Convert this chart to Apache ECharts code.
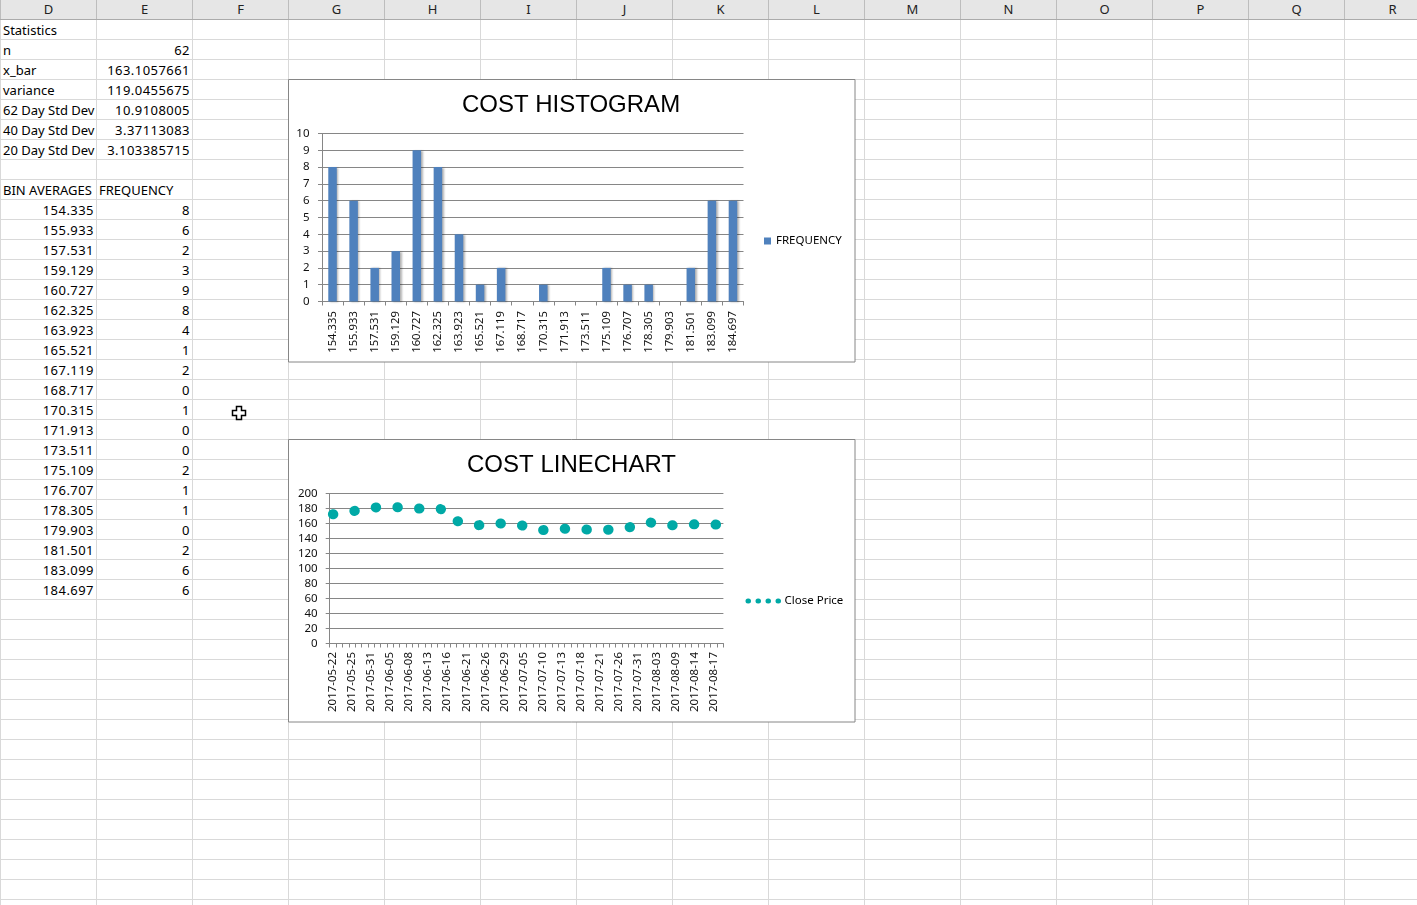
<!DOCTYPE html>
<html>
<head>
<meta charset="utf-8">
<script src="https://cdn.jsdelivr.net/npm/echarts@6/dist/echarts.min.js"></script>
<style>
html,body{margin:0;padding:0;width:1417px;height:905px;overflow:hidden;background:#fff;font-family:'Noto Sans',sans-serif;}
#sheet{position:absolute;left:0;top:0;width:1417px;height:905px;
  background-image:linear-gradient(to right,#D9D9D9 1px,transparent 1px),linear-gradient(to bottom,#D9D9D9 1px,transparent 1px);
  background-size:96px 20px;background-position:0 19px;}
#hdr{position:absolute;left:0;top:0;width:1417px;height:19px;background:#E6E6E6;border-bottom:1px solid #ABABAB;}
.hc{position:absolute;top:0;height:19px;line-height:19px;width:95px;border-left:1px solid #BDBDBD;text-align:center;font-size:13px;color:#222;}
.cell{position:absolute;height:19px;line-height:19px;font-size:13px;color:#000;white-space:nowrap;}
.num{letter-spacing:0.45px;}
#chart{position:absolute;left:0;top:0;width:1417px;height:905px;}
</style>
</head>
<body>
<div id="sheet"></div>
<div id="hdr"></div>
<div id="cells"></div>
<div id="chart"></div>
<script>
// ---- data ----
const columnLetters = ['D','E','F','G','H','I','J','K','L','M','N','O','P','Q','R'];
const statTitle = 'Statistics';
const statLabels = ['n','x_bar','variance','62 Day Std Dev','40 Day Std Dev','20 Day Std Dev'];
const statValues = ['62','163.1057661','119.0455675','10.9108005','3.37113083','3.103385715'];
const binHeader = 'BIN AVERAGES';
const freqHeader = 'FREQUENCY';
const binAverages = ['154.335','155.933','157.531','159.129','160.727','162.325','163.923','165.521','167.119','168.717',
                     '170.315','171.913','173.511','175.109','176.707','178.305','179.903','181.501','183.099','184.697'];
const frequency = [8,6,2,3,9,8,4,1,2,0,1,0,0,2,1,1,0,2,6,6];
const dates = [
 '2017-05-22','2017-05-23','2017-05-24','2017-05-25','2017-05-26','2017-05-30','2017-05-31',
 '2017-06-01','2017-06-02','2017-06-05','2017-06-06','2017-06-07','2017-06-08','2017-06-09','2017-06-12','2017-06-13',
 '2017-06-14','2017-06-15','2017-06-16','2017-06-19','2017-06-20','2017-06-21','2017-06-22','2017-06-23','2017-06-26',
 '2017-06-27','2017-06-28','2017-06-29','2017-06-30',
 '2017-07-03','2017-07-05','2017-07-06','2017-07-07','2017-07-10','2017-07-11','2017-07-12','2017-07-13','2017-07-14',
 '2017-07-17','2017-07-18','2017-07-19','2017-07-20','2017-07-21','2017-07-24','2017-07-25','2017-07-26','2017-07-27',
 '2017-07-28','2017-07-31',
 '2017-08-01','2017-08-02','2017-08-03','2017-08-07','2017-08-08','2017-08-09','2017-08-10','2017-08-11','2017-08-14',
 '2017-08-15','2017-08-16','2017-08-17','2017-08-18'
];
const closePrice = [
 172.3,173.6,174.9,176.2,177.6,179.6,181.2,
 181.5,181.8,181.6,181.8,181.3,180.7,180.2,179.8,180.3,
 179.6,179.4,168.6,164.4,162.3,160.1,158.4,157.8,158.9,
 160.0,160.2,159.7,159.4,
 159.1,156.9,154.4,152.6,151.1,152.1,152.9,153.3,152.8,
 152.3,152.0,151.9,151.8,151.5,151.6,152.1,152.8,153.4,
 155.6,158.1,
 160.3,161.3,159.9,158.4,157.3,157.9,158.3,158.7,158.9,
 158.6,158.7,158.7,158.5
];
const freqAxisRange = [0, 10];
const freqAxisStep = 1;
const priceAxisRange = [0, 200];
const priceAxisStep = 20;

// ---- spreadsheet ----
const hdr = document.getElementById('hdr');
columnLetters.forEach((c, i) => {
  const d = document.createElement('div');
  d.className = 'hc';
  d.style.left = (i * 96) + 'px';
  d.textContent = c;
  hdr.appendChild(d);
});
const cells = document.getElementById('cells');
function addCell(text, col, row, align) {
  const d = document.createElement('div');
  d.className = 'cell';
  d.style.top = (20 + 20 * (row - 1) + 0.5) + 'px';
  if (align === 'right') {
    d.className = 'cell num';
    d.style.left = (col * 96) + 'px';
    d.style.width = '94px';
    d.style.textAlign = 'right';
  } else {
    d.style.left = (col * 96 + 3) + 'px';
  }
  d.textContent = text;
  cells.appendChild(d);
}
addCell(statTitle, 0, 1, 'left');
statLabels.forEach((t, i) => { addCell(t, 0, 2 + i, 'left'); addCell(statValues[i], 1, 2 + i, 'right'); });
addCell(binHeader, 0, 9, 'left');
addCell(freqHeader, 1, 9, 'left');
binAverages.forEach((b, i) => { addCell(b, 0, 10 + i, 'right'); addCell(String(frequency[i]), 1, 10 + i, 'right'); });

// ---- charts ----
const chart = echarts.init(document.getElementById('chart'), null, {renderer: 'canvas'});
const axisGray = '#868686';
const labelFont = 'Noto Sans';
const titleStyle = {fontFamily: 'Liberation Sans', fontSize: 24, fontWeight: 'normal', color: '#000'};
const option = {
  animation: false,
  backgroundColor: 'transparent',
  textStyle: {fontFamily: labelFont},
  title: [
    {text: 'COST HISTOGRAM', left: 571, top: 93, textAlign: 'center', padding: 0, textStyle: titleStyle},
    {text: 'COST LINECHART', left: 571.5, top: 453, textAlign: 'center', padding: 0, textStyle: titleStyle}
  ],
  legend: [
    {data: ['FREQUENCY'], left: 764, top: 234, padding: 0, icon: 'rect', itemWidth: 7, itemHeight: 7,
     textStyle: {fontSize: 11.5, color: '#000', fontFamily: labelFont, lineHeight: 14}},
    {data: ['Close Price'], left: 745.5, top: 594, padding: 0, itemWidth: 31.5, itemHeight: 10,
     itemStyle: {opacity: 0},
     lineStyle: {width: 5, type: [0.5, 9.5], cap: 'round'},
     textStyle: {fontSize: 11.5, color: '#000', fontFamily: labelFont, lineHeight: 14}}
  ],
  grid: [
    {left: 322, top: 133.5, width: 421.5, height: 168},
    {left: 329.7, top: 493.5, width: 393.7, height: 150}
  ],
  xAxis: [
    {type: 'category', gridIndex: 0, data: binAverages, boundaryGap: true,
     axisLine: {show: true, lineStyle: {color: axisGray, width: 1}},
     axisTick: {show: true, interval: 0, length: 4, lineStyle: {color: axisGray}},
     axisLabel: {interval: 0, rotate: 90, margin: 9.5, fontSize: 11.3, color: '#111', fontFamily: labelFont},
     splitLine: {show: false}},
    {type: 'category', gridIndex: 1, data: dates, boundaryGap: true,
     axisLine: {show: true, lineStyle: {color: axisGray, width: 1}},
     axisTick: {show: true, interval: 0, length: 4, lineStyle: {color: axisGray}},
     axisLabel: {interval: 2, rotate: 90, margin: 8.5, fontSize: 11.5, color: '#111', fontFamily: labelFont},
     splitLine: {show: false}}
  ],
  yAxis: [
    {type: 'value', gridIndex: 0, min: freqAxisRange[0], max: freqAxisRange[1], interval: freqAxisStep,
     axisLine: {show: true, lineStyle: {color: axisGray}},
     axisTick: {show: true, length: 4, lineStyle: {color: axisGray}},
     axisLabel: {margin: 12.5, fontSize: 11.5, color: '#111', fontFamily: labelFont},
     splitLine: {show: true, lineStyle: {color: axisGray, width: 1}}},
    {type: 'value', gridIndex: 1, min: priceAxisRange[0], max: priceAxisRange[1], interval: priceAxisStep,
     axisLine: {show: true, lineStyle: {color: axisGray}},
     axisTick: {show: true, length: 4, lineStyle: {color: axisGray}},
     axisLabel: {margin: 12, fontSize: 11.5, color: '#111', fontFamily: labelFont},
     splitLine: {show: true, lineStyle: {color: axisGray, width: 1}}}
  ],
  series: [
    {name: 'FREQUENCY', type: 'bar', xAxisIndex: 0, yAxisIndex: 0, data: frequency, barWidth: 8.5,
     itemStyle: {color: '#4F81BD', shadowColor: 'rgba(0,0,0,0.3)', shadowBlur: 2, shadowOffsetX: 1.5, shadowOffsetY: 0.5}},
    {name: 'Close Price', type: 'line', xAxisIndex: 1, yAxisIndex: 1, data: closePrice,
     symbol: 'none', showSymbol: false, clip: false, smooth: false,
     itemStyle: {color: '#00A9A6'},
     lineStyle: {color: '#00A9A6', width: 10, type: [0.5, 21.2], cap: 'round'}}
  ],
  graphic: [
    {type: 'rect', z: -10, shape: {x: 288.5, y: 79.5, width: 566.5, height: 282.5},
     style: {fill: '#fff', stroke: axisGray, lineWidth: 1}},
    {type: 'rect', z: -10, shape: {x: 288.5, y: 439.5, width: 566.5, height: 282.5},
     style: {fill: '#fff', stroke: axisGray, lineWidth: 1}},
    {type: 'polygon', z: 100, shape: {points: [[236.5,406.5],[241.5,406.5],[241.5,410.5],[245.5,410.5],[245.5,415.5],
      [241.5,415.5],[241.5,419.5],[236.5,419.5],[236.5,415.5],[232.5,415.5],[232.5,410.5],[236.5,410.5]]},
     style: {fill: '#fff', stroke: '#000', lineWidth: 1.5}}
  ]
};
chart.setOption(option);
</script>
</body>
</html>
